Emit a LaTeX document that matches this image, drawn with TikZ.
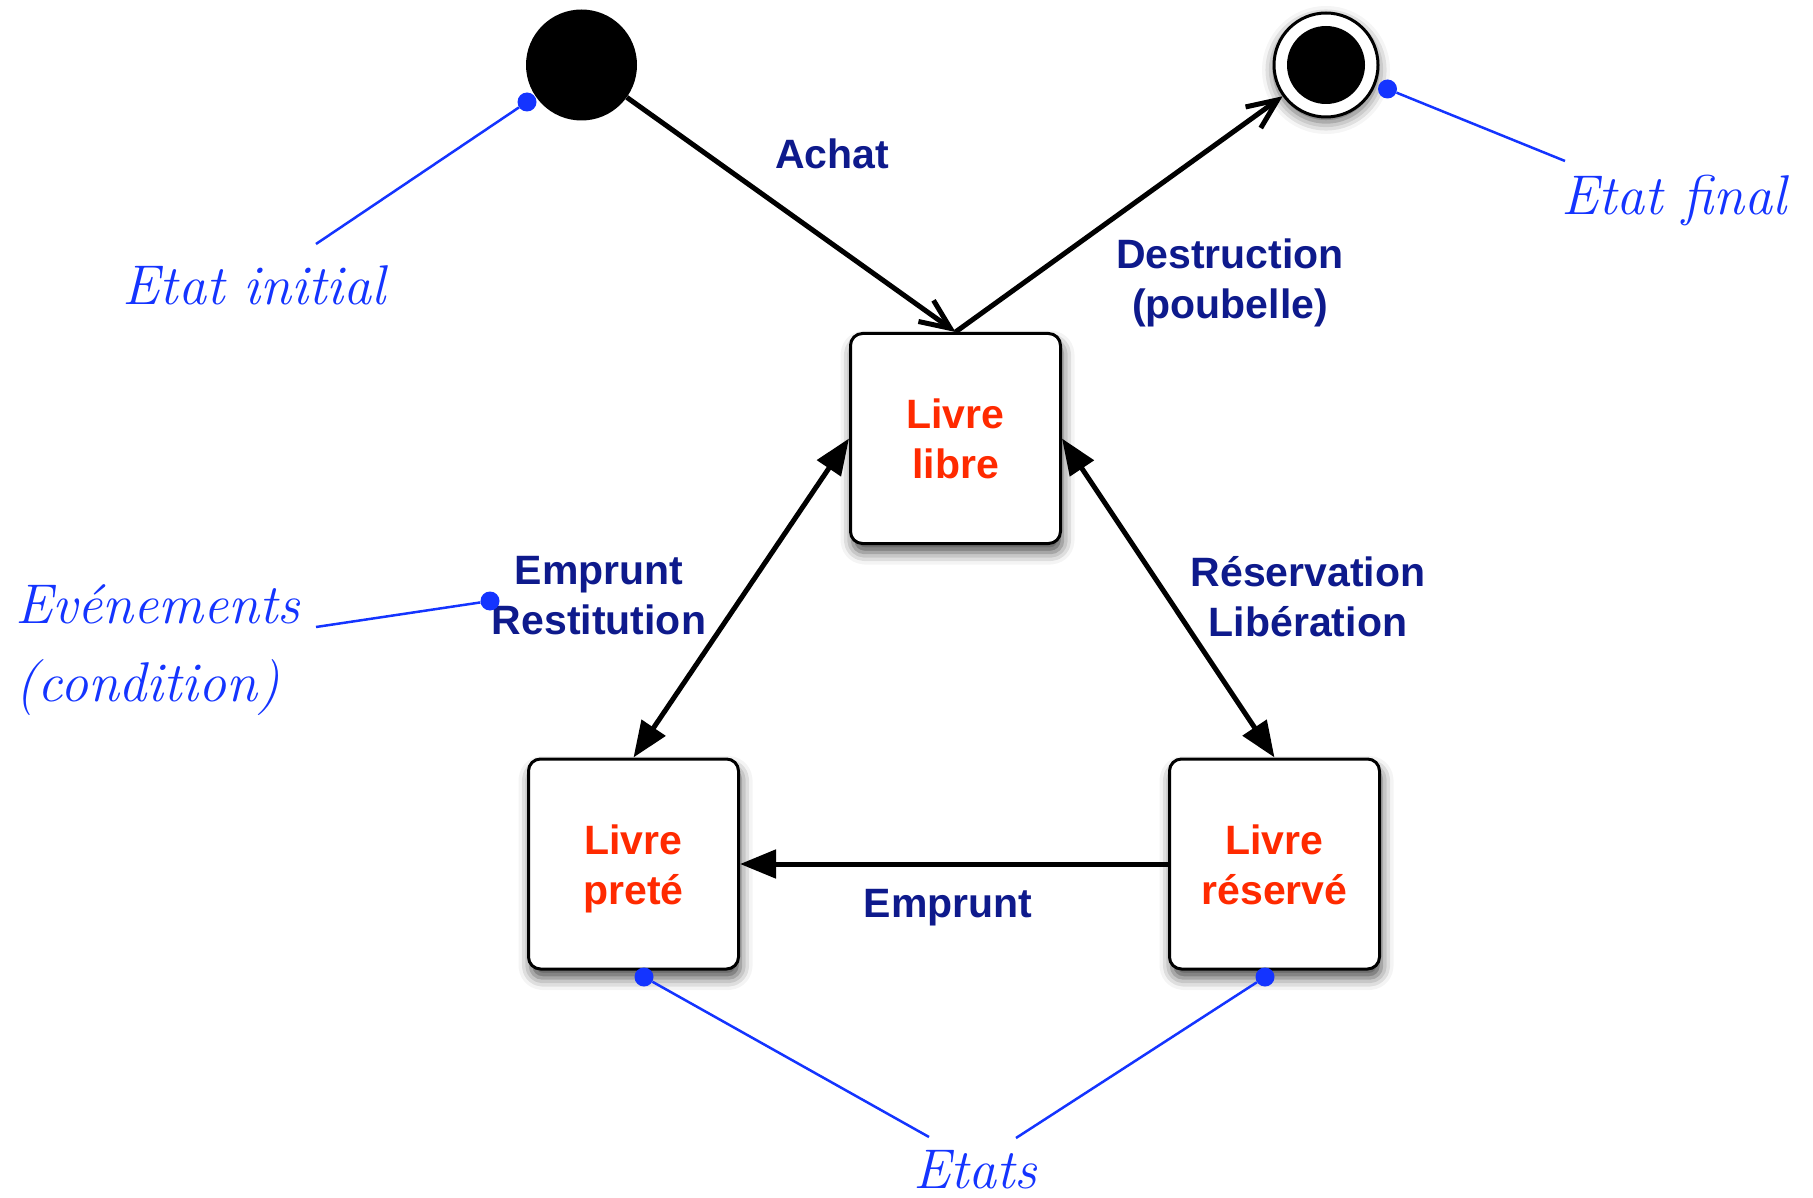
\documentclass[tikz,border=0pt]{standalone}
\usepackage{fontspec}
\newfontfamily\helv{Liberation Sans}
\usetikzlibrary{arrows.meta,shapes.geometric,shadows.blur}
\definecolor{labelnavy}{RGB}{14,26,140}
\definecolor{statered}{RGB}{255,42,0}
\definecolor{noteblue}{RGB}{20,52,255}
% fixed line height so every state name sits at the same place in its box
\newcommand\linestrut{\rule[-10pt]{0pt}{50pt}}
\begin{document}
\begin{tikzpicture}[x=1pt,y=-1pt,
  statebox/.style={draw=black, line width=3pt, fill=white, rounded corners=12pt,
    minimum width=210pt, minimum height=210pt, align=center, text=statered,
    font=\helv\bfseries\fontsize{41}{50}\selectfont,
    blur shadow={shadow xshift=2pt, shadow yshift=-9pt, shadow blur radius=12pt, shadow opacity=70}},
  evlabel/.style={text=labelnavy, align=center, inner sep=0pt,
    font=\helv\bfseries\fontsize{41}{50}\selectfont},
  openarrow/.style={line width=5pt, -{Straight Barb[length=30pt,width=26pt]}},
  filledtip/.style={line width=5pt, line cap=round},
  notetext/.style={text=noteblue, inner sep=0pt, align=left,
    font=\itshape\fontsize{56}{78}\selectfont},
  noteline/.style={draw=noteblue, line width=2.5pt},
  notedot/.style={circle, fill=noteblue, inner sep=0pt, minimum size=19pt},
]
\useasboundingbox (0,0) rectangle (1813,1198);

% pseudo-states
\node[circle, fill=black, inner sep=0pt, minimum size=111pt] (init) at (581.5,65) {};
\node[circle, draw=black, line width=3pt, fill=white, inner sep=0pt,
      minimum size=104pt,
      blur shadow={shadow xshift=0pt, shadow yshift=-5pt, shadow blur radius=12pt, shadow opacity=65}]
      (final) at (1326,65) {};
\node[circle, fill=black, inner sep=0pt, minimum size=78pt] (finalcore) at (1326,65) {};

% states
\node[statebox] (libre)   at (955.5,438.5) {Livre\linestrut\\libre\linestrut};
\node[statebox] (prete)   at (633.5,864)   {Livre\linestrut\\pret\'e\linestrut};
\node[statebox] (reserve) at (1274.5,864)  {Livre\linestrut\\r\'eserv\'e\linestrut};

% transitions
\draw[openarrow] (init) -- (libre.north);
\draw[openarrow] (libre.north) -- (final);
\draw[filledtip, {Triangle[length=36pt,width=28pt]}-{Triangle[length=36pt,width=28pt]}]
  (libre.west) -- (prete.north);
\draw[filledtip, {Triangle[length=36pt,width=28pt]}-{Triangle[length=36pt,width=28pt]}]
  (libre.east) -- (reserve.north);
\draw[filledtip, -{Triangle[length=36pt,width=28pt]}] (reserve.west) -- (prete.east);

% transition labels
\node[evlabel] (lachat) at (832,154) {Achat};
\node[evlabel] (ldestr) at (1230,283) {Destruction\\(poubelle)};
\node[evlabel] (lemprest) at (599,596) {Emprunt\\Restitution};
\node[evlabel] (lreslib) at (1308,597) {R\'eservation\\Lib\'eration};
\node[evlabel] (lemprunt) at (948,908) {Emprunt};

% notes
\node[notedot] (dinit) at (527,102) {};
\coordinate (einit) at (316,244);
\draw[noteline] (dinit) -- (einit);
\node[notetext] (ninit) at (254,285) {Etat initial};

\node[notedot] (dfinal) at (1387.5,89) {};
\coordinate (efinal) at (1565,161);
\draw[noteline] (dfinal) -- (efinal);
\node[notetext] (nfinal) at (1674,201) {Etat final};

\node[notedot] (devt) at (490,601) {};
\coordinate (eevt) at (316,627);
\draw[noteline] (devt) -- (eevt);
\node[notetext, anchor=west] (nevt) at (15,650) {Ev\'enements\\(condition)};

\node[notedot] (dprete) at (644,977) {};
\node[notedot] (dreserve) at (1265,977) {};
\coordinate (eprete) at (929,1137);
\coordinate (ereserve) at (1016,1138);
\draw[noteline] (dprete) -- (eprete);
\draw[noteline] (dreserve) -- (ereserve);
\node[notetext] (netats) at (975,1170) {Etats};
\end{tikzpicture}
\end{document}
